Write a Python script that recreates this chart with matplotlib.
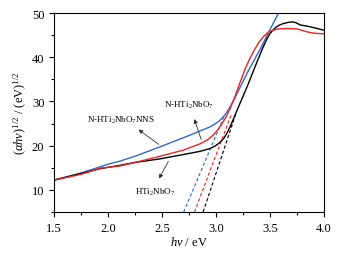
import matplotlib
matplotlib.use("Agg")
import matplotlib.pyplot as plt
from matplotlib.ticker import MultipleLocator

plt.rcParams['font.family'] = ['Liberation Serif', 'DejaVu Serif']
plt.rcParams['mathtext.fontset'] = 'custom'
plt.rcParams['mathtext.rm'] = 'Liberation Serif'
plt.rcParams['mathtext.it'] = 'Liberation Serif:italic'

# =========================
# DATA
# =========================
blue_x = [1.5, 1.75, 2.0, 2.11, 2.25, 2.5, 2.75, 2.94, 2.99, 3.03, 3.07, 3.10, 3.13, 3.17, 3.22,
          3.30, 3.41, 3.50, 3.62]
blue_y = [12.2, 13.8, 15.8, 16.5, 17.6, 19.9, 22.3, 24.2, 24.9, 25.6, 26.6, 27.6, 28.8, 30.6, 33.1,
          37.0, 41.9, 46.3, 52.0]

red_x = [1.5, 1.75, 1.93, 2.11, 2.25, 2.48, 2.7, 2.85, 2.92, 2.97, 3.01, 3.05, 3.09, 3.13, 3.17,
         3.22, 3.27, 3.31, 3.36, 3.40, 3.44, 3.48, 3.52, 3.58, 3.66, 3.75, 3.85, 3.92, 4.0]
red_y = [12.2, 13.5, 14.9, 15.4, 16.2, 17.6, 19.0, 20.4, 21.3, 22.3, 23.4, 24.8, 26.4, 28.4, 30.8,
         34.2, 37.4, 39.6, 41.9, 43.5, 44.7, 45.6, 46.1, 46.4, 46.5, 46.4, 45.7, 45.4, 45.3]

black_x = [1.5, 1.93, 2.1, 2.25, 2.48, 2.7, 2.85, 2.94, 2.99, 3.03, 3.07, 3.10, 3.13, 3.16, 3.22,
           3.29, 3.36, 3.43, 3.47, 3.50, 3.54, 3.58, 3.62, 3.67, 3.71, 3.74, 3.78, 3.85, 3.92, 4.0]
black_y = [12.2, 14.8, 15.5, 16.2, 17.0, 18.0, 18.7, 19.3, 19.9, 20.6, 21.6, 22.8, 24.3, 26.0, 29.5,
           33.5, 37.8, 42.0, 44.1, 45.4, 46.5, 47.2, 47.6, 47.9, 48.0, 47.8, 47.3, 47.0, 46.6, 46.1]

# tangent (Tauc) lines: bottom point and upper point
blue_fit_x = [2.70, 3.08]
blue_fit_y = [5.0, 27.0]
red_fit_x = [2.80, 3.14]
red_fit_y = [5.0, 27.0]
black_fit_x = [2.88, 3.18]
black_fit_y = [5.0, 27.0]

BLUE = "#3366cc"
RED = "#ee2222"

# =========================
# PLOT
# =========================
fig = plt.figure(figsize=(3.47, 2.55), dpi=100)
ax = fig.add_axes([0.156, 0.165, 0.778, 0.780])

ax.plot(blue_fit_x, blue_fit_y, color=BLUE, lw=0.8, ls=(0, (3, 2)))
ax.plot(red_fit_x, red_fit_y, color=RED, lw=0.8, ls=(0, (3, 2)))
ax.plot(black_fit_x, black_fit_y, color="black", lw=0.8, ls=(0, (3, 2)))

ax.plot(blue_x, blue_y, color=BLUE, lw=1.0)
ax.plot(black_x, black_y, color="black", lw=1.0)
ax.plot(red_x, red_y, color=RED, lw=1.0)

ax.set_xlim(1.5, 4.0)
ax.set_ylim(5, 50)
ax.xaxis.set_major_locator(MultipleLocator(0.5))
ax.xaxis.set_minor_locator(MultipleLocator(0.25))
ax.yaxis.set_major_locator(MultipleLocator(10))
ax.yaxis.set_minor_locator(MultipleLocator(5))
ax.set_yticks([10, 20, 30, 40, 50])
ax.tick_params(which="both", direction="out", labelsize=9, top=False, right=False)
ax.tick_params(which="major", length=3.5, width=0.8)
ax.tick_params(which="minor", length=2, width=0.8)
for s in ax.spines.values():
    s.set_linewidth(0.8)

ax.set_xlabel(r"$\mathit{h\nu}$ / eV", fontsize=9, labelpad=1)
ax.set_ylabel(r"$(\mathit{\alpha h\nu})^{1/2}$ / (eV)$^{1/2}$", fontsize=9, labelpad=2)

arrow = dict(arrowstyle="-|>", color="#333333", lw=0.6, mutation_scale=6)
ax.annotate("", xy=(2.26, 24.0), xytext=(2.49, 19.9), arrowprops=arrow)
ax.text(2.12, 26.0, "N-HTi$_2$NbO$_7$NNS", fontsize=6.5, ha="center", va="center")
ax.annotate("", xy=(2.79, 26.6), xytext=(2.87, 20.8), arrowprops=arrow)
ax.text(2.75, 29.4, "N-HTi$_2$NbO$_7$", fontsize=6.5, ha="center", va="center")
ax.annotate("", xy=(2.46, 12.0), xytext=(2.57, 17.0), arrowprops=arrow)
ax.text(2.44, 9.7, "HTi$_2$NbO$_7$", fontsize=6.5, ha="center", va="center")

fig.savefig("out.png", dpi=100)
